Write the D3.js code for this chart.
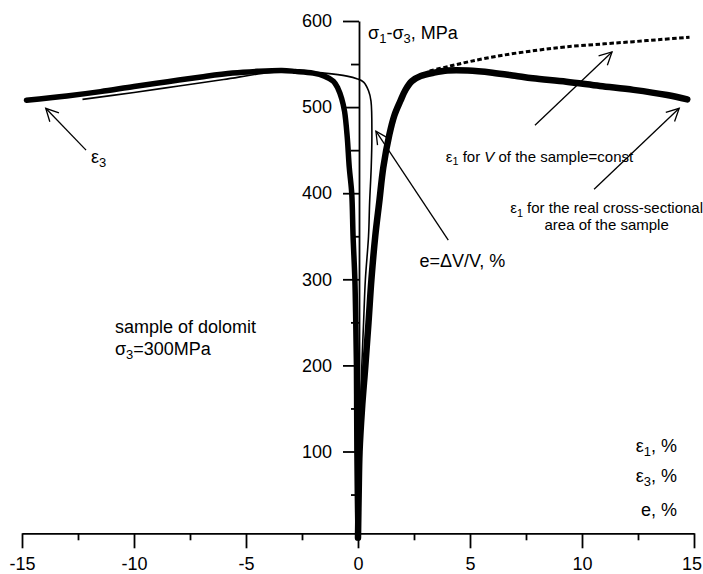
<!DOCTYPE html>
<html><head><meta charset="utf-8">
<script src="https://cdn.jsdelivr.net/npm/d3@7"></script>
<style>
html,body{margin:0;padding:0;background:#fff;}
svg{display:block;font-family:Arial,"Liberation Sans",sans-serif;}
</style></head><body>
<svg id="chart" width="703" height="574"></svg>
<script>
// ---------- data (strain %, stress MPa) ----------
const e1Strain = [0, 0.03, 0.07, 0.18, 0.33, 0.47, 0.6, 0.77, 0.95, 1.13, 1.4, 1.62, 1.89, 2.12, 2.4, 2.8, 3.4, 4.0, 4.9, 6.0, 7.0, 7.8, 9.3, 10.8, 12.3, 13.8, 14.7];
const e1Stress = [0, 50, 100, 150, 200, 250, 300, 350, 390, 430, 468, 490, 507, 520, 530, 536, 540, 542.5, 542.5, 540, 536.5, 533.5, 529.5, 524.5, 520, 514, 509];

const e1VStrain = [3.2, 4, 5, 6.4, 8, 9.3, 11, 12.3, 13.5, 14.8];
const e1VStress = [542, 547, 553, 560, 566, 570, 573.5, 576, 578.5, 581];

const e3Strain = [0, -0.03, -0.05, -0.06, -0.07, -0.1, -0.14, -0.22, -0.28, -0.39, -0.48, -0.6, -0.73, -0.9, -1.1, -1.5, -2.0, -2.8, -3.4, -4.5, -5.6, -7, -8.5, -10, -11.5, -13, -14.8];
const e3Stress = [0, 50, 100, 150, 200, 250, 300, 350, 400, 430, 465, 495, 510, 522, 530, 536, 539.5, 541.5, 542.5, 541.5, 539.5, 535, 529.5, 524, 518, 513, 508];

const eVStrain = [0, 0.05, 0.08, 0.12, 0.17, 0.25, 0.33, 0.47, 0.52, 0.59, 0.62, 0.58, 0.47, 0.25, -0.05, -0.49, -1.5, -2.5, -4, -6, -8, -10, -12.3];
const eVStress = [0, 50, 100, 150, 200, 250, 300, 350, 390, 430, 468, 507, 519, 529, 533, 536, 539.5, 541.5, 540, 532, 524.5, 517, 509];

const xMajorTicks = [-15, -10, -5, 0, 5, 10, 15];
const xMinorTicks = [-12.5, -7.5, -2.5, 2.5, 7.5, 12.5];
const yMajorTicks = [100, 200, 300, 400, 500, 600];
const yMinorTicks = [50, 150, 250, 350, 450, 550];
const xAxisLevel = 5;

// ---------- scales ----------
const svg = d3.select("#chart");
svg.append("rect").attr("width", 703).attr("height", 574).attr("fill", "#fff");
const x = d3.scaleLinear().domain([-15, 15]).range([22, 694]);
const y = d3.scaleLinear().domain([0, 600]).range([537.6, 21]);

const zip = (a, b) => a.map((v, i) => [v, b[i]]);
const line = d3.line().x(d => x(d[0])).y(d => y(d[1])).curve(d3.curveCatmullRom.alpha(0.5));

// ---------- axes ----------
function styleAxis(g) {
  g.selectAll("path,line").attr("stroke", "#000").attr("stroke-width", 1.8);
  g.selectAll("text").attr("font-size", 18).attr("font-family", "Arial, 'Liberation Sans', sans-serif").attr("fill", "#000");
}
const xg = svg.append("g").attr("transform", `translate(0,${y(xAxisLevel)})`)
  .call(d3.axisBottom(x).tickValues(xMajorTicks).tickSize(15).tickPadding(9).tickSizeOuter(0).tickFormat(d => String(d)));
styleAxis(xg);
xg.selectAll("text").filter(d => d === 15).attr("dx", -2.5);
const xgm = svg.append("g").attr("transform", `translate(0,${y(xAxisLevel)})`)
  .call(d3.axisBottom(x).tickValues(xMinorTicks).tickSize(7).tickSizeOuter(0).tickFormat(""));
styleAxis(xgm); xgm.select("path").remove();

const yg = svg.append("g").attr("transform", `translate(${x(0) + 1},0)`)
  .call(d3.axisLeft(y).tickValues(yMajorTicks).tickSize(16).tickPadding(11).tickSizeOuter(0).tickFormat(d => String(d)));
styleAxis(yg);
const ygm = svg.append("g").attr("transform", `translate(${x(0) + 1},0)`)
  .call(d3.axisLeft(y).tickValues(yMinorTicks).tickSize(8).tickSizeOuter(0).tickFormat(""));
styleAxis(ygm); ygm.select("path").remove();

// ---------- curves ----------
svg.append("path").attr("d", line(zip(eVStrain, eVStress)))
  .attr("fill", "none").attr("stroke", "#000").attr("stroke-width", 1.6);
svg.append("path").attr("d", line(zip(e3Strain, e3Stress)))
  .attr("fill", "none").attr("stroke", "#000").attr("stroke-width", 5.5).attr("stroke-linecap", "round").attr("stroke-linejoin", "round");
svg.append("path").attr("d", line(zip(e1Strain, e1Stress)))
  .attr("fill", "none").attr("stroke", "#000").attr("stroke-width", 6.5).attr("stroke-linecap", "round").attr("stroke-linejoin", "round");
svg.append("path").attr("d", line(zip(e1VStrain, e1VStress)))
  .attr("fill", "none").attr("stroke", "#000").attr("stroke-width", 3).attr("stroke-dasharray", "4.5,2.5");

// ---------- arrows (data coords: tail -> tip) ----------
const arrows = [
  [[7.9, 479], [11.34, 564]],
  [[10.54, 404.5], [14.34, 498.6]],
  [[4.03, 345.6], [0.8, 472]],
  [[-12.14, 450], [-13.94, 498.6]]
];
arrows.forEach(([t, h]) => {
  const x1 = x(t[0]), y1 = y(t[1]), x2 = x(h[0]), y2 = y(h[1]);
  const ang = Math.atan2(y1 - y2, x1 - x2), L = 14, a = 27 * Math.PI / 180;
  const g = svg.append("g").attr("stroke", "#000").attr("stroke-width", 1.3).attr("fill", "none");
  g.append("line").attr("x1", x1).attr("y1", y1).attr("x2", x2).attr("y2", y2);
  g.append("polyline").attr("points", [
    [x2 + L * Math.cos(ang + a), y2 + L * Math.sin(ang + a)],
    [x2, y2],
    [x2 + L * Math.cos(ang - a), y2 + L * Math.sin(ang - a)]
  ].map(p => p.join(",")).join(" "));
});

// ---------- texts ----------
function label(parts, px, py, size, anchor) {
  const t = svg.append("text").attr("x", px).attr("y", py).attr("font-size", size)
    .attr("text-anchor", anchor || "start").attr("fill", "#000");
  let shifted = false;
  parts.forEach(p => {
    const [s, kind] = Array.isArray(p) ? p : [p, null];
    const sp = t.append("tspan").text(s);
    if (kind === "sub") {
      sp.attr("font-size", size * 0.72).attr("dy", size * 0.24);
      shifted = true;
    } else {
      if (shifted) { sp.attr("dy", -size * 0.24); shifted = false; }
      if (kind === "it") sp.attr("font-style", "italic");
    }
  });
  return t;
}
label(["σ", ["1", "sub"], "-σ", ["3", "sub"], ", MPa"], x(0.45), y(579), 18);
label(["ε", ["1", "sub"], " for ", ["V", "it"], " of the sample=const"], x(3.92), y(436.6), 15);
label(["ε", ["1", "sub"], " for the real cross-sectional"], x(11.1), y(376.7), 15, "middle");
label(["area of the sample"], x(11.1), y(357), 15, "middle");
label(["e=ΔV/V, %"], x(4.66), y(314.6), 18, "middle");
label(["sample of dolomit"], x(-10.85), y(237.6), 18);
label(["σ", ["3", "sub"], "=300MPa"], x(-10.85), y(212), 18);
label(["ε", ["3", "sub"]], x(-11.92), y(435), 18);
label(["ε", ["1", "sub"], ", %"], x(14.24), y(99.4), 18, "end");
label(["ε", ["3", "sub"], ", %"], x(14.24), y(64.6), 18, "end");
label(["e, %"], x(14.24), y(25), 18, "end");
</script>
</body></html>
